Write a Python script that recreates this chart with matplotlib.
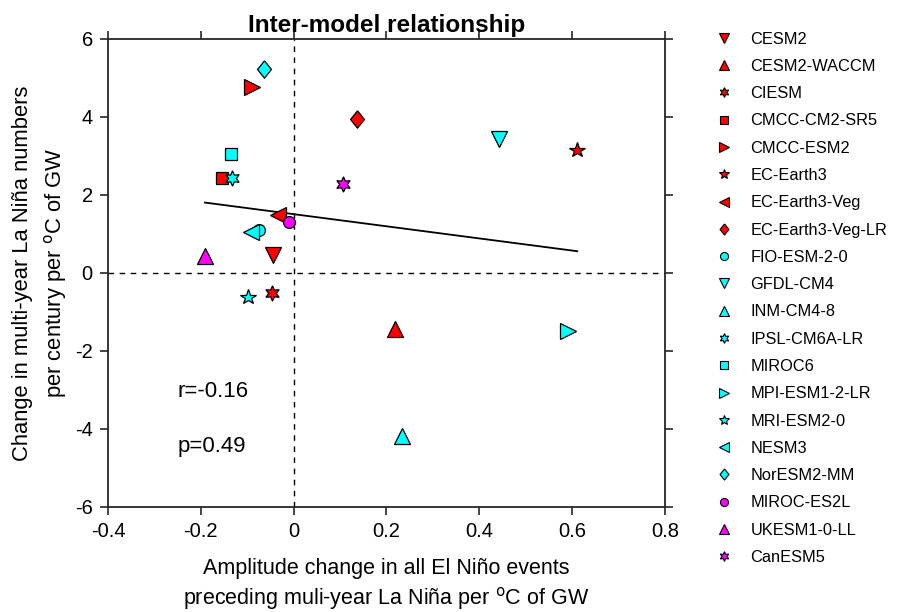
import numpy as np
import matplotlib
matplotlib.use('Agg')
import matplotlib.pyplot as plt
from matplotlib.lines import Line2D
from matplotlib.ticker import FuncFormatter

plt.rcParams['font.family'] = ['Liberation Sans', 'DejaVu Sans']

models = ['CESM2', 'CESM2-WACCM', 'CIESM', 'CMCC-CM2-SR5', 'CMCC-ESM2',
          'EC-Earth3', 'EC-Earth3-Veg', 'EC-Earth3-Veg-LR', 'FIO-ESM-2-0',
          'GFDL-CM4', 'INM-CM4-8', 'IPSL-CM6A-LR', 'MIROC6', 'MPI-ESM1-2-LR',
          'MRI-ESM2-0', 'NESM3', 'NorESM2-MM', 'MIROC-ES2L', 'UKESM1-0-LL', 'CanESM5']
amp_change = [-0.045, 0.218, -0.047, -0.155, -0.090, 0.611, -0.034, 0.137, -0.074,
              0.443, 0.234, -0.133, -0.135, 0.591, -0.098, -0.092, -0.064, -0.010,
              -0.191, 0.106]
lanina_change = [0.46, -1.44, -0.51, 2.44, 4.77, 3.15, 1.49, 3.95, 1.10,
                 3.44, -4.18, 2.43, 3.05, -1.49, -0.62, 1.05, 5.23, 1.31,
                 0.44, 2.27]
marker_keys = ['v', '^', 'hex', 's', '>', '*', '<', 'dia', 'o',
               'v', '^', 'hex', 's', '>', '*', '<', 'dia', 'o', '^', 'hex']
colors = ['red'] * 8 + ['cyan'] * 9 + ['magenta'] * 3
r_text = 'r=-0.16'
p_text = 'p=0.49'

# marker shape -> (matplotlib marker, size in plot, size in legend)
diamond = [(0, 1), (0.8, 0), (0, -1), (-0.8, 0), (0, 1)]
mk_style = {'v': ('v', 11.5, 6.5), '^': ('^', 11.5, 6.5), '>': ('>', 11.5, 6.5),
            '<': ('<', 11.5, 6.5), 's': ('s', 8, 5.5), 'o': ('o', 8.5, 5.8),
            '*': ('*', 11.5, 7.5), 'hex': ((6, 1, 0), 11, 7),
            'dia': (diamond, 12.5, 8)}

fig = plt.figure(figsize=(8.98, 6.12), dpi=100)
ax = fig.add_axes([0.1203, 0.1716, 0.6202, 0.7647])

ax.axhline(0, color='k', ls=(0, (4, 4)), lw=1.0)
ax.axvline(0, color='k', ls=(0, (4, 4)), lw=1.0)

handles = []
for name, xv, yv, key, c in zip(models, amp_change, lanina_change, marker_keys, colors):
    mk, ms, ms_leg = mk_style[key]
    ax.plot(xv, yv, ls='none', marker=mk, ms=ms, mfc=c,
            mec='k', mew=0.9, zorder=3)
    handles.append(Line2D([], [], ls='none', marker=mk, ms=ms_leg, mfc=c,
                          mec='k', mew=0.8, label=name))

# linear fit
xs = np.array(amp_change)
ys = np.array(lanina_change)
slope, icpt = np.polyfit(xs, ys, 1)
xl = np.array([xs.min(), xs.max()])
ax.plot(xl, slope * xl + icpt, color='k', lw=1.3, zorder=2)

ax.text(-0.25, -3.05, r_text, fontsize=16, va='center', ha='left')
ax.text(-0.25, -4.45, p_text, fontsize=16, va='center', ha='left')

ax.set_xlim(-0.4, 0.8)
ax.set_ylim(-6, 6)
ax.set_xticks(np.arange(-0.4, 0.81, 0.2))
ax.set_yticks(np.arange(-6, 7, 2))
ax.xaxis.set_major_formatter(FuncFormatter(lambda v, p: '%g' % round(v, 2)))
ax.yaxis.set_major_formatter(FuncFormatter(lambda v, p: '%g' % round(v, 2)))
ax.tick_params(direction='out', top=True, right=True, length=6, width=1.2,
               labelsize=14.5, pad=5, colors='#262626', labelcolor='k')
for s in ax.spines.values():
    s.set_linewidth(1.3)
    s.set_color('#262626')

ax.set_title('Inter-model relationship', fontsize=17.5, fontweight='bold', pad=5)
ax.set_xlabel('Amplitude change in all El Ni\u00f1o events\n'
              'preceding muli-year La Ni\u00f1a per $^{\\rm o}$C of GW',
              fontsize=15.5, linespacing=1.3, labelpad=12)
ax.set_ylabel('Change in multi-year La Ni\u00f1a numbers\n'
              'per century per $^{\\rm o}$C of GW', fontsize=15.8,
              linespacing=1.5, labelpad=4)

ax.legend(handles=handles, loc='upper left', bbox_to_anchor=(1.065, 1.03),
          frameon=False, fontsize=11.8, labelspacing=0.75, handletextpad=0.6,
          borderaxespad=0)

fig.savefig('out.png', dpi=100)
